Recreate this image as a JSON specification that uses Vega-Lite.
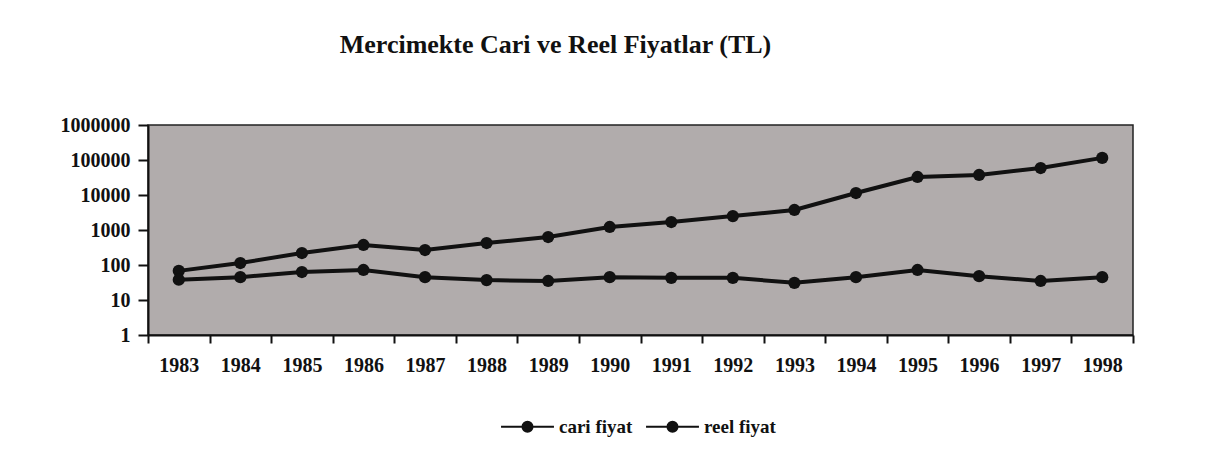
{
  "$schema": "https://vega.github.io/schema/vega-lite/v6.json",
  "autosize": "none",
  "width": 985,
  "height": 210,
  "padding": {"left": 148, "top": 125, "right": 79, "bottom": 128},
  "background": "white",
  "title": {
    "text": "Mercimekte Cari ve Reel Fiyatlar (TL)",
    "font": "Liberation Serif",
    "fontSize": 26,
    "fontWeight": "bold",
    "color": "#111111",
    "anchor": "middle",
    "offset": 57,
    "dx": -85
  },
  "config": {
    "font": "Liberation Serif",
    "view": {"fill": "#b1acac", "stroke": "#222222", "strokeWidth": 1.5},
    "legend": {"labelFont": "Liberation Serif", "labelFontSize": 19, "labelColor": "#111111"},
    "axis": {
      "labelFont": "Liberation Serif",
      "labelFontWeight": "bold",
      "labelFontSize": 20,
      "labelColor": "#111111",
      "domainColor": "#111111",
      "domainWidth": 2,
      "tickColor": "#111111",
      "tickWidth": 2,
      "grid": false,
      "title": null
    }
  },
  "data": {
    "values": [
      {"year": "1983", "series": "cari fiyat", "value": 68},
      {"year": "1984", "series": "cari fiyat", "value": 114},
      {"year": "1985", "series": "cari fiyat", "value": 220},
      {"year": "1986", "series": "cari fiyat", "value": 373},
      {"year": "1987", "series": "cari fiyat", "value": 268},
      {"year": "1988", "series": "cari fiyat", "value": 425},
      {"year": "1989", "series": "cari fiyat", "value": 630},
      {"year": "1990", "series": "cari fiyat", "value": 1220},
      {"year": "1991", "series": "cari fiyat", "value": 1690},
      {"year": "1992", "series": "cari fiyat", "value": 2500},
      {"year": "1993", "series": "cari fiyat", "value": 3730},
      {"year": "1994", "series": "cari fiyat", "value": 11400},
      {"year": "1995", "series": "cari fiyat", "value": 32700},
      {"year": "1996", "series": "cari fiyat", "value": 37300},
      {"year": "1997", "series": "cari fiyat", "value": 59000},
      {"year": "1998", "series": "cari fiyat", "value": 115000},
      {"year": "1983", "series": "reel fiyat", "value": 38},
      {"year": "1984", "series": "reel fiyat", "value": 45},
      {"year": "1985", "series": "reel fiyat", "value": 63},
      {"year": "1986", "series": "reel fiyat", "value": 72},
      {"year": "1987", "series": "reel fiyat", "value": 45},
      {"year": "1988", "series": "reel fiyat", "value": 37},
      {"year": "1989", "series": "reel fiyat", "value": 35},
      {"year": "1990", "series": "reel fiyat", "value": 45},
      {"year": "1991", "series": "reel fiyat", "value": 43},
      {"year": "1992", "series": "reel fiyat", "value": 43},
      {"year": "1993", "series": "reel fiyat", "value": 31},
      {"year": "1994", "series": "reel fiyat", "value": 45},
      {"year": "1995", "series": "reel fiyat", "value": 72},
      {"year": "1996", "series": "reel fiyat", "value": 48},
      {"year": "1997", "series": "reel fiyat", "value": 35},
      {"year": "1998", "series": "reel fiyat", "value": 45}
    ]
  },
  "mark": {
    "type": "line",
    "strokeWidth": 4,
    "point": {"filled": true, "size": 150, "shape": "circle", "color": "#111111"}
  },
  "encoding": {
    "x": {
      "field": "year",
      "type": "ordinal",
      "scale": {"type": "band", "paddingInner": 0, "paddingOuter": 0},
      "axis": {"labelAngle": 0, "tickBand": "extent", "tickSize": 8, "labelPadding": 12}
    },
    "y": {
      "field": "value",
      "type": "quantitative",
      "scale": {"type": "log", "domain": [1, 1000000], "nice": false},
      "axis": {"values": [1, 10, 100, 1000, 10000, 100000, 1000000], "format": "d", "tickSize": 10, "labelPadding": 8}
    },
    "color": {
      "field": "series",
      "type": "nominal",
      "scale": {"range": ["#111111", "#111111"]},
      "legend": {
        "title": null,
        "orient": "none",
        "direction": "horizontal",
        "legendX": 352,
        "legendY": 274,
        "labelFont": "Liberation Serif",
        "labelFontSize": 19,
        "labelFontWeight": 600,
        "labelColor": "#111111",
        "columnPadding": 9,
        "symbolType": "M-1,0L1,0M-0.19,0A0.19,0.19,0,1,1,0.19,0A0.19,0.19,0,1,1,-0.19,0Z",
        "symbolSize": 2800,
        "symbolStrokeWidth": 2,
        "labelOffset": 4,
        "encode": {
          "symbols": {"update": {"fill": {"value": "#111111"}, "stroke": {"value": "#111111"}}}
        }
      }
    }
  }
}
